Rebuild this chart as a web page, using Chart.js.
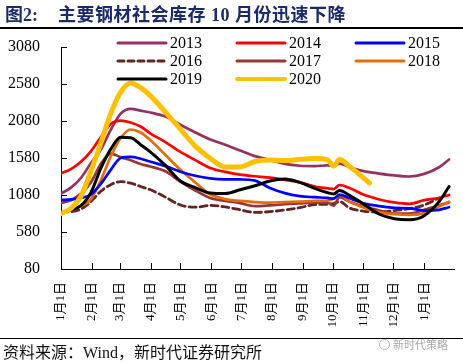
<!DOCTYPE html>
<html lang="zh-CN">
<head>
    <meta charset="UTF-8">
    <title>主要钢材社会库存</title>
    <script src="https://cdn.jsdelivr.net/npm/chart.js@4.4.1/dist/chart.umd.min.js"></script>
    <style>
        body { margin: 0; background: #fff; }
        #wrap { position: relative; width: 463px; height: 364px; overflow: hidden; }
        #chart { position: absolute; left: 0; top: 0; }
        .title { position: absolute; top: 5px; left: 5px; font: bold 18px "Liberation Serif", "Noto Sans CJK SC", serif; color: #1b2a6b; line-height: 20px; white-space: nowrap; }
        .title .main { position: absolute; left: 53px; top: 0; letter-spacing: 0.5px; }
        .rule { position: absolute; left: 0; width: 463px; background: #000; }
        .rule.top { top: 27px; height: 2px; }
        .rule.bottom { top: 338px; height: 1px; }
        .source { position: absolute; left: 3px; top: 344px; font: 16px "Liberation Serif", "Noto Sans CJK SC", serif; color: #111; line-height: 18px; white-space: nowrap; }
        .mark { position: absolute; left: 393px; top: 336px; font: 11px "Noto Sans CJK SC", sans-serif; color: #a8a8a8; white-space: nowrap; }
        .mark .ring { position: absolute; left: -14px; top: 3px; width: 9px; height: 9px; border: 1px solid #b8b8b8; border-radius: 50%; }
    </style>
</head>
<body>
    <div id="wrap">
        <canvas id="chart" width="463" height="364"></canvas>
        <div class="title"><span>图2:</span><span class="main">主要钢材社会库存 10 月份迅速下降</span></div>
        <div class="rule top"></div>
        <div class="rule bottom"></div>
        <div class="source">资料来源：Wind，新时代证券研究所</div>
        <div class="mark"><span class="ring"></span>新时代策略</div>
    </div>

    <script>
        // 日期：自1月1日起的天数
        const days = [0, 10, 20, 30, 40, 50, 60, 70, 80, 90, 105, 120, 135, 150, 165, 180, 195, 210, 225, 240, 255, 268, 274, 280, 290, 305, 310, 320, 335, 350, 365, 380, 390];

        const years = ['2013', '2014', '2015', '2016', '2017', '2018', '2019', '2020'];

        const s2013 = [1100, 1180, 1310, 1510, 1690, 1960, 2180, 2245, 2220, 2195, 2140, 2030, 1925, 1830, 1760, 1680, 1605, 1555, 1500, 1475, 1470, 1480, 1475, 1505, 1455, 1400, 1390, 1370, 1345, 1330, 1365, 1455, 1560];
        const s2014 = [1375, 1430, 1530, 1670, 1860, 2040, 2085, 2060, 2005, 1910, 1795, 1662, 1552, 1445, 1392, 1355, 1333, 1315, 1285, 1250, 1195, 1170, 1160, 1215, 1175, 1080, 1060, 1020, 980, 960, 1010, 1040, 1080];
        const s2015 = [1010, 1020, 1040, 1085, 1230, 1420, 1580, 1595, 1570, 1530, 1470, 1395, 1340, 1305, 1292, 1290, 1275, 1175, 1105, 1065, 1050, 1040, 1030, 1085, 1035, 965, 950, 930, 905, 900, 870, 880, 915];
        const s2016 = [850, 855, 890, 990, 1130, 1220, 1260, 1240, 1195, 1150, 1050, 945, 915, 940, 918, 880, 845, 855, 878, 909, 950, 955, 965, 990, 905, 860, 855, 850, 870, 895, 945, 1040, null];
        const s2017 = [970, 1010, 1100, 1250, 1500, 1640, 1590, 1550, 1500, 1465, 1400, 1260, 1140, 1040, 1000, 970, 930, 940, 955, 968, 978, 975, 935, 1050, 990, 920, 905, 870, 830, 830, 880, 940, 980];
        const s2018 = [845, 880, 930, 1020, 1280, 1600, 1850, 1965, 1925, 1820, 1620, 1420, 1250, 1090, 1025, 1000, 985, 978, 985, 990, 1000, 1005, 1030, 1080, 990, 905, 880, 845, 820, 810, 835, 925, 990];
        const s2019 = [850, 880, 935, 1110, 1440, 1700, 1860, 1855, 1760, 1660, 1480, 1270, 1180, 1107, 1100, 1150, 1205, 1270, 1295, 1250, 1170, 1110, 1095, 1140, 1075, 950, 905, 820, 760, 745, 800, 990, 1195];
        const s2020 = [830, 900, 1060, 1400, 1780, 2180, 2470, 2595, 2530, 2420, 2200, 1970, 1740, 1575, 1460, 1460, 1532, 1553, 1545, 1562, 1572, 1555, 1470, 1560, 1465, 1300, 1240, null, null, null, null, null, null];

        // 坐标轴刻度
        const tickDays = [0, 31, 59, 90, 120, 151, 181, 212, 243, 273, 304, 334, 365];
        const tickLabels = ['1月1日', '2月1日', '3月1日', '4月1日', '5月1日', '6月1日', '7月1日', '8月1日', '9月1日', '10月1日', '11月1日', '12月1日', '1月1日'];
        const yTicks = [80, 580, 1080, 1580, 2080, 2580, 3080];

        const seriesValues = [s2013, s2014, s2015, s2016, s2017, s2018, s2019, s2020];
        const colors = ['#953163', '#ff0000', '#0000ff', '#632523', '#953735', '#e46c0a', '#000000', '#ffc000'];
        const widths = [2.7, 2.7, 2.7, 2.8, 2.7, 2.7, 3, 5];
        const drawOrder = [5, 2, 3, 7, 6, 4, 1, 0];

        const datasets = years.map((year, i) => ({
            label: year,
            data: days.map((d, j) => ({ x: d, y: seriesValues[i][j] })),
            borderColor: colors[i],
            backgroundColor: colors[i],
            borderWidth: widths[i],
            borderDash: year === '2016' ? [7, 4] : [],
            borderCapStyle: 'round',
            borderJoinStyle: 'round',
            pointRadius: 0,
            cubicInterpolationMode: 'monotone',
            order: drawOrder[i]
        }));

        // 图例：三列网格，画在绘图区内
        const legendGrid = {
            id: 'legendGrid',
            afterDatasetsDraw(chart) {
                const ctx = chart.ctx;
                const cols = [118, 237, 356];
                const rows = [43, 61, 79];
                ctx.save();
                ctx.font = '16px "Liberation Serif"';
                ctx.textBaseline = 'middle';
                chart.data.datasets.forEach((ds, i) => {
                    const x = cols[i % 3];
                    const y = rows[Math.floor(i / 3)];
                    ctx.strokeStyle = ds.borderColor;
                    ctx.lineWidth = ds.label === '2020' ? 4 : 3;
                    ctx.lineCap = 'round';
                    ctx.setLineDash(ds.label === '2016' ? [6, 4] : []);
                    ctx.beginPath();
                    ctx.moveTo(x, y);
                    ctx.lineTo(x + 48, y);
                    ctx.stroke();
                    ctx.setLineDash([]);
                    ctx.fillStyle = '#000';
                    ctx.fillText(ds.label, x + 52, y + 1);
                });
                ctx.restore();
            }
        };

        // 向内的刻度线
        const innerTicks = {
            id: 'innerTicks',
            afterDraw(chart) {
                const { ctx, chartArea, scales } = chart;
                ctx.save();
                ctx.strokeStyle = '#000';
                ctx.lineWidth = 1;
                ctx.beginPath();
                scales.x.ticks.forEach(t => {
                    const px = Math.round(scales.x.getPixelForValue(t.value)) + 0.5;
                    ctx.moveTo(px, chartArea.bottom);
                    ctx.lineTo(px, chartArea.bottom - 6);
                });
                scales.y.ticks.forEach(t => {
                    const py = Math.round(scales.y.getPixelForValue(t.value)) + 0.5;
                    ctx.moveTo(chartArea.left, py);
                    ctx.lineTo(chartArea.left + 6, py);
                });
                ctx.stroke();
                ctx.restore();
            }
        };

        Chart.defaults.font.family = '"Liberation Serif", "Noto Sans CJK SC", serif';
        Chart.defaults.color = '#000';

        new Chart(document.getElementById('chart'), {
            type: 'line',
            data: { datasets: datasets },
            options: {
                responsive: false,
                animation: false,
                devicePixelRatio: 1,
                layout: { padding: { top: 47, right: 9, left: 0, bottom: 0 } },
                plugins: {
                    legend: { display: false },
                    tooltip: { enabled: false }
                },
                scales: {
                    x: {
                        type: 'linear',
                        min: 0,
                        max: 395,
                        grid: { display: false },
                        border: { color: '#000', width: 1 },
                        afterBuildTicks: scale => { scale.ticks = tickDays.map(v => ({ value: v })); },
                        afterFit: scale => { scale.height = 95; },
                        ticks: {
                            autoSkip: false,
                            maxRotation: 90,
                            minRotation: 90,
                            padding: 5,
                            font: { size: 13 },
                            callback: (value, index) => tickLabels[index]
                        }
                    },
                    y: {
                        min: 80,
                        max: 3080,
                        grid: { display: false },
                        border: { color: '#000', width: 1 },
                        afterBuildTicks: scale => { scale.ticks = yTicks.map(v => ({ value: v })); },
                        afterFit: scale => { scale.width = 61; },
                        ticks: {
                            padding: 13,
                            font: { size: 16 },
                            callback: value => String(value)
                        }
                    }
                }
            },
            plugins: [legendGrid, innerTicks]
        });
    </script>
</body>
</html>
